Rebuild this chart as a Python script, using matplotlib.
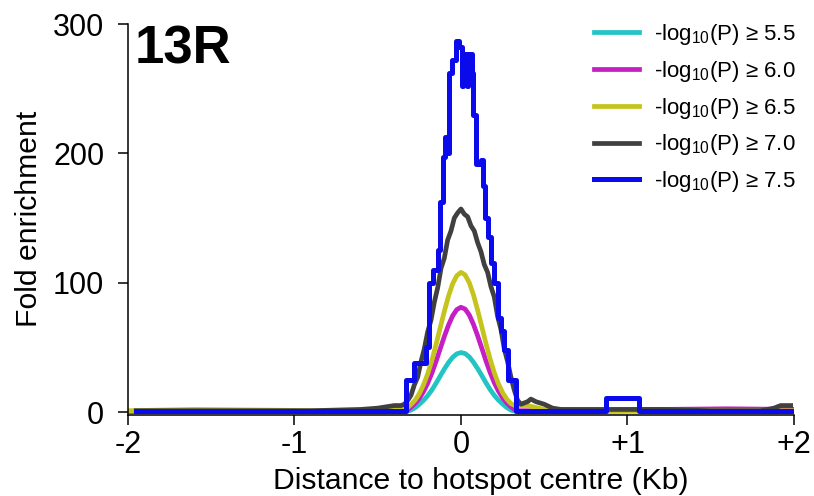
import numpy as np
import matplotlib
matplotlib.use('Agg')
import matplotlib.pyplot as plt

plt.rcParams['font.family'] = ['Liberation Sans', 'DejaVu Sans']
plt.rcParams['mathtext.fontset'] = 'custom'
plt.rcParams['mathtext.rm'] = 'Liberation Sans'

# smooth curves (distance in Kb, fold enrichment)
x_c = [-2.0, -1.6, -1.2, -0.8, -0.5, -0.4, -0.35, -0.325, -0.3, -0.275, -0.25, -0.225, -0.2, -0.175,
       -0.15, -0.125, -0.1, -0.075, -0.05, -0.025, 0.0, 0.025, 0.05, 0.075, 0.1, 0.125,
       0.15, 0.175, 0.2, 0.225, 0.25, 0.275, 0.3, 0.325, 0.35, 0.4, 0.5, 0.8, 1.2, 1.6, 2.0]
cyan = [0.5, 0.5, 0.5, 0.5, 0.5, 0.5, 0.5, 0.5, 1.5, 3.3, 6.0, 9.0, 12.6, 17.0,
        22.2, 27.8, 33.2, 38.2, 42.3, 45.0, 46.0, 45.2, 42.6, 38.5, 33.6, 28.2,
        22.6, 17.4, 12.9, 9.2, 6.2, 3.5, 1.5, 0.5, 0.5, 0.5, 0.5, 0.5, 0.8, 1.0, 1.0]
magenta = [0.5, 0.8, 0.6, 0.5, 0.5, 0.5, 0.8, 1.0, 3.8, 6.8, 10.6, 15.8, 22.2, 30.0,
           39.0, 48.8, 58.4, 67.2, 74.4, 79.2, 81.0, 79.6, 75.0, 67.8, 59.0, 49.4,
           39.6, 30.6, 22.7, 16.2, 11.0, 7.0, 4.0, 1.5, 1.0, 1.0, 0.8, 1.0, 2.0, 2.5, 2.0]
yellow = [1.0, 2.0, 1.5, 1.0, 1.0, 2.0, 3.0, 3.0, 5.8, 9.2, 14.2, 21.0, 29.4, 39.8,
          52.0, 65.0, 77.8, 89.6, 99.2, 105.4, 108.0, 106.0, 100.0, 90.6, 78.8, 66.0,
          53.0, 41.0, 30.4, 21.8, 15.0, 10.0, 6.5, 5.0, 5.0, 5.0, 2.0, 1.0, 1.0, 1.0, 1.0]

# dark grey curve (jagged)
x_g = [-1.95, -1.5, -1.0, -0.9, -0.6, -0.5, -0.45, -0.4, -0.36, -0.34, -0.32, -0.30, -0.28,
       -0.26, -0.24, -0.22, -0.20, -0.18, -0.16, -0.14, -0.12, -0.10, -0.08, -0.06, -0.04,
       -0.02, 0.0, 0.02, 0.04, 0.06, 0.08, 0.10, 0.12, 0.14, 0.16, 0.18, 0.20, 0.22, 0.24,
       0.26, 0.28, 0.30, 0.32, 0.34, 0.36, 0.38, 0.40, 0.42, 0.45, 0.50, 0.55, 0.60, 0.70,
       0.80, 0.90, 1.00, 1.10, 1.20, 1.50, 1.80, 1.88, 1.92, 1.98]
grey = [1, 1, 1, 1, 2, 3, 4, 5, 5, 6, 9, 13, 21,
        27, 39, 49, 62, 71, 85, 96, 111, 119, 133, 140, 150,
        154, 157, 153, 151, 144, 140, 131, 124, 114, 108, 97, 89, 74, 64,
        49, 39, 27, 17, 9, 6, 7, 8, 10, 8, 6, 3, 2, 2,
        2, 2, 2, 2, 2, 1, 1, 3, 5, 5]

# blue step curve: bin edges and values
blue_edges = [-1.95, -0.33, -0.28, -0.21, -0.19, -0.165, -0.14, -0.125, -0.11, -0.095, -0.08,
              -0.07, -0.055, -0.03, -0.01, 0.005, 0.015, 0.035, 0.045, 0.065, 0.075, 0.09,
              0.12, 0.135, 0.145, 0.16, 0.18, 0.20, 0.22, 0.24, 0.26, 0.28, 0.33, 0.87,
              1.07, 2.0]
blue_vals = [0.5, 25, 38, 50, 100, 110, 125, 162, 197, 213, 200,
             262, 272, 287, 282, 252, 277, 252, 277, 262, 230,
             192, 195, 175, 150, 135, 115, 100, 73, 63, 48, 25, 0.5,
             11, 0.5]

labels = ['-log$_{10}$(P) \u2265 5.5', '-log$_{10}$(P) \u2265 6.0', '-log$_{10}$(P) \u2265 6.5',
          '-log$_{10}$(P) \u2265 7.0', '-log$_{10}$(P) \u2265 7.5']
colors = ['#22c4c4', '#c41ec4', '#c4c41c', '#404040', '#0a0aeb']

fig = plt.figure(figsize=(8.14, 4.96), dpi=100)
ax = fig.add_axes([0.1572, 0.1641, 0.8182, 0.7875])

lw = 3.4
ax.plot(x_c, cyan, color=colors[0], lw=lw, label=labels[0])
ax.plot(x_c, magenta, color=colors[1], lw=lw, label=labels[1])
ax.plot(x_c, yellow, color=colors[2], lw=lw, label=labels[2])
ax.plot(x_g, grey, color=colors[3], lw=lw, label=labels[3])
ax.step(blue_edges, blue_vals + [blue_vals[-1]], where='post', color=colors[4], lw=3.6,
        label=labels[4])

ax.set_xlim(-2, 2)
ax.set_ylim(-2, 300)
ax.set_xticks([-2, -1, 0, 1, 2])
ax.set_xticklabels(['-2', '-1', '0', '+1', '+2'])
ax.set_yticks([0, 100, 200, 300])
for s in ['top', 'right']:
    ax.spines[s].set_visible(False)
for s in ['left', 'bottom']:
    ax.spines[s].set_linewidth(1.1)
ax.tick_params(axis='both', direction='out', length=7, width=1.1, labelsize=22)
ax.tick_params(axis='y', pad=10)
ax.tick_params(axis='x', pad=4)
ax.set_xlabel('Distance to hotspot centre (Kb)', fontsize=21.7, labelpad=5)
ax.xaxis.label.set_x(0.529)
ax.set_ylabel('Fold enrichment', fontsize=21.7, labelpad=7)

ax.text(0.01, 1.0, '13R', transform=ax.transAxes, ha='left', va='top',
        fontsize=38, fontweight='bold')

ax.legend(loc='upper right', bbox_to_anchor=(796 / 814, 1 - 22 / 496),
          bbox_transform=fig.transFigure, frameon=False, fontsize=16,
          handlelength=2.0, handletextpad=0.7, labelspacing=0.53, borderaxespad=0,
          borderpad=0)

fig.savefig('out.png', dpi=100)
